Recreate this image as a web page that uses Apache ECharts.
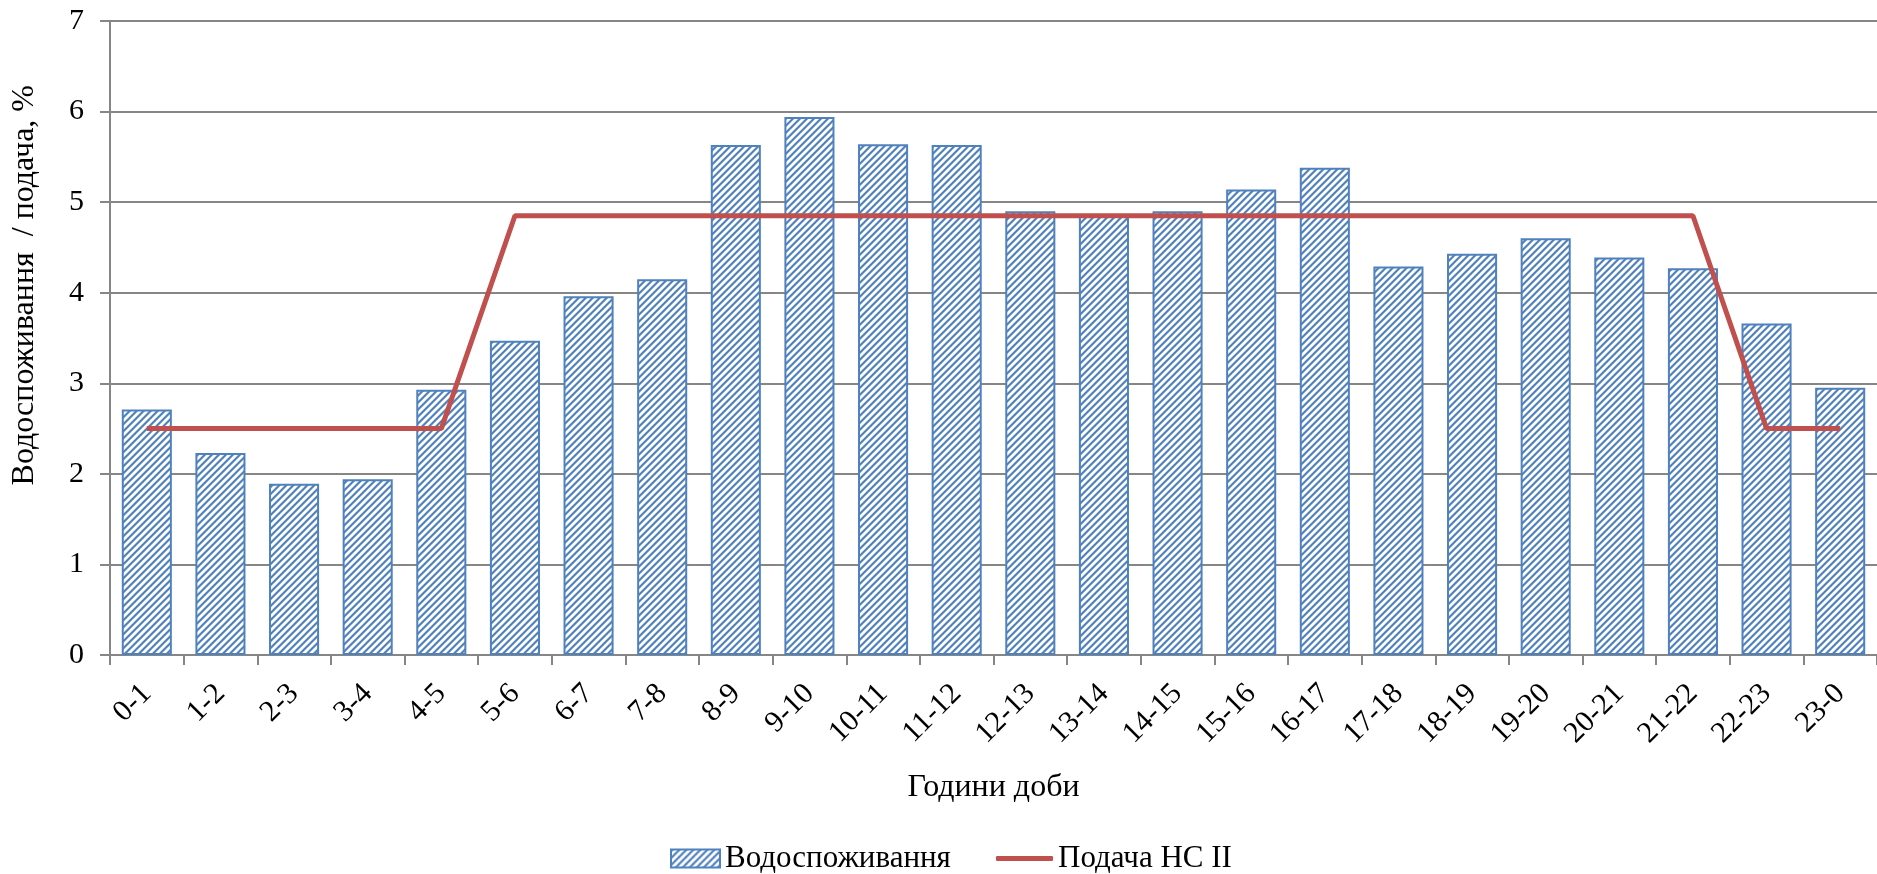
<!DOCTYPE html>
<html>
<head>
<meta charset="utf-8">
<script src="https://cdn.jsdelivr.net/npm/echarts@6/dist/echarts.min.js"></script>
<style>
html,body{margin:0;padding:0;background:#fff;}
#chart{width:1877px;height:874px;}
</style>
</head>
<body>
<div id="chart"></div>
<script>
const hours = ['0-1','1-2','2-3','3-4','4-5','5-6','6-7','7-8','8-9','9-10','10-11','11-12','12-13','13-14','14-15','15-16','16-17','17-18','18-19','19-20','20-21','21-22','22-23','23-0'];
const consumption = [2.71,2.23,1.89,1.94,2.93,3.47,3.96,4.15,5.63,5.94,5.64,5.63,4.90,4.85,4.90,5.14,5.38,4.29,4.43,4.60,4.39,4.27,3.66,2.95];
const supply = [2.5,2.5,2.5,2.5,2.5,4.85,4.85,4.85,4.85,4.85,4.85,4.85,4.85,4.85,4.85,4.85,4.85,4.85,4.85,4.85,4.85,4.85,2.5,2.5];
const seriesNames = ['Водоспоживання','Подача НС II'];
const yTicks = [0,1,2,3,4,5,6,7];

function makePattern(){
  const n = 7;
  const c = document.createElement('canvas');
  c.width = n; c.height = n;
  const ctx = c.getContext('2d');
  const cols = ['#4F81BD','#4F81BD','#93B0D8','#FFFFFF','#FFFFFF','#FFFFFF','#B3C9E5'];
  for(let x=0;x<n;x++){for(let y=0;y<n;y++){
    ctx.fillStyle = cols[(x+y)%n];
    ctx.fillRect(x,y,1,1);
  }}
  return c;
}
const pattern = {image: makePattern(), repeat: 'repeat'};
const font = 'Liberation Serif, Times New Roman, serif';

const chart = echarts.init(document.getElementById('chart'));
chart.setOption({
  animation:false,
  backgroundColor:'#fff',
  textStyle:{fontFamily:font},
  grid:{left:110,right:0,top:21,bottom:219,containLabel:false},
  graphic:[{
    type:'text',
    left:9, top:85,
    rotation:Math.PI/2,
    style:{text:'Водоспоживання  / подача, %',font:'32px '+font,fill:'#000'}
  }],
  legend:[{
    top:843, left:670, padding:0,
    itemWidth:49,itemHeight:18,
    textStyle:{fontSize:31,color:'#000',fontFamily:font},
    data:[{name:seriesNames[0],icon:'rect'}]
  },{
    top:843, left:996, padding:0,
    itemWidth:57,itemHeight:5,
    textStyle:{fontSize:31,color:'#000',fontFamily:font},
    data:[{name:seriesNames[1],icon:'roundRect'}]
  }],
  xAxis:{
    type:'category',
    data:hours,
    name:'Години доби',
    nameLocation:'middle',
    nameGap:117,
    nameTextStyle:{fontSize:32,color:'#000',fontFamily:font},
    axisLine:{lineStyle:{color:'#868686',width:2}},
    axisTick:{show:true,length:10,lineStyle:{color:'#868686',width:2}},
    axisLabel:{rotate:45,fontSize:30,color:'#000',fontFamily:font,margin:34,interval:0}
  },
  yAxis:{
    type:'value',
    min:0,max:7,interval:1,
    axisLine:{show:true,lineStyle:{color:'#868686',width:2}},
    axisTick:{show:true,length:10,lineStyle:{color:'#868686',width:2}},
    axisLabel:{fontSize:30,color:'#000',fontFamily:font,margin:26,
      formatter:v=>yTicks.includes(v)?String(v):''},
    splitLine:{lineStyle:{color:'#868686',width:2}}
  },
  series:[
    {name:seriesNames[0],type:'bar',data:consumption,barWidth:'68%',
     itemStyle:{color:pattern,borderColor:'#4F81BD',borderWidth:2}},
    {name:seriesNames[1],type:'line',data:supply,symbol:'none',
     lineStyle:{color:'#C0504D',width:5},itemStyle:{color:'#C0504D'}}
  ]
});
</script>
</body>
</html>
